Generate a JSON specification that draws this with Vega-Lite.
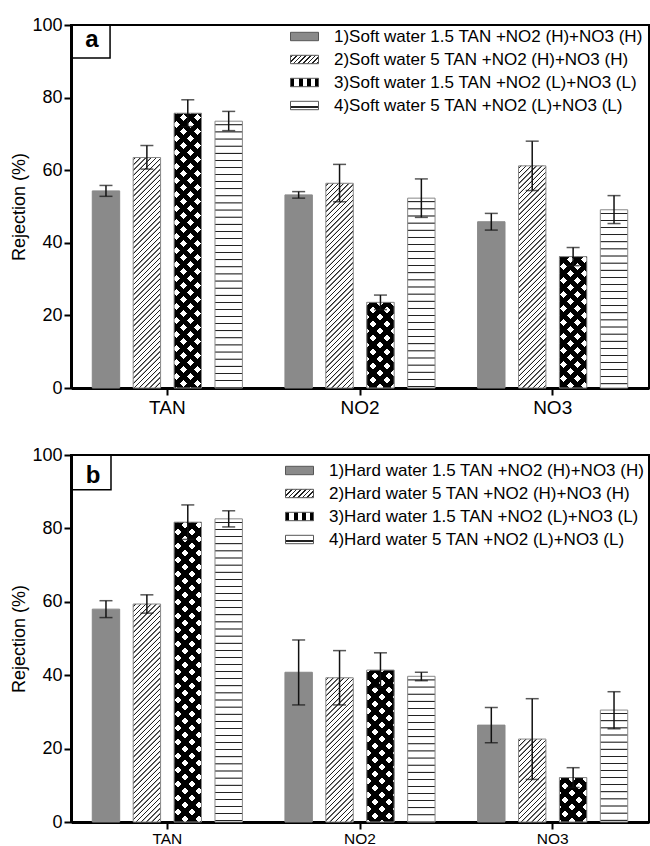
{
"$schema": "https://vega.github.io/schema/vega-lite/v6.json",
"background": "white",
"padding": {"left": 9, "top": 15, "right": 0, "bottom": 0},
"params": [
{"name": "stH", "value": [
{"offset":0.008,"color":"#fff"},{"offset":0.0095,"color":"#222"},{"offset":0.011,"color":"#222"},{"offset":0.0125,"color":"#fff"},
{"offset":0.028,"color":"#fff"},{"offset":0.0295,"color":"#222"},{"offset":0.031,"color":"#222"},{"offset":0.0325,"color":"#fff"},
{"offset":0.048,"color":"#fff"},{"offset":0.0495,"color":"#222"},{"offset":0.051,"color":"#222"},{"offset":0.0525,"color":"#fff"},
{"offset":0.068,"color":"#fff"},{"offset":0.0695,"color":"#222"},{"offset":0.071,"color":"#222"},{"offset":0.0725,"color":"#fff"},
{"offset":0.088,"color":"#fff"},{"offset":0.0895,"color":"#222"},{"offset":0.091,"color":"#222"},{"offset":0.0925,"color":"#fff"},
{"offset":0.108,"color":"#fff"},{"offset":0.1095,"color":"#222"},{"offset":0.111,"color":"#222"},{"offset":0.1125,"color":"#fff"},
{"offset":0.128,"color":"#fff"},{"offset":0.1295,"color":"#222"},{"offset":0.131,"color":"#222"},{"offset":0.1325,"color":"#fff"},
{"offset":0.148,"color":"#fff"},{"offset":0.1495,"color":"#222"},{"offset":0.151,"color":"#222"},{"offset":0.1525,"color":"#fff"},
{"offset":0.168,"color":"#fff"},{"offset":0.1695,"color":"#222"},{"offset":0.171,"color":"#222"},{"offset":0.1725,"color":"#fff"},
{"offset":0.188,"color":"#fff"},{"offset":0.1895,"color":"#222"},{"offset":0.191,"color":"#222"},{"offset":0.1925,"color":"#fff"},
{"offset":0.208,"color":"#fff"},{"offset":0.2095,"color":"#222"},{"offset":0.211,"color":"#222"},{"offset":0.2125,"color":"#fff"},
{"offset":0.228,"color":"#fff"},{"offset":0.2295,"color":"#222"},{"offset":0.231,"color":"#222"},{"offset":0.2325,"color":"#fff"},
{"offset":0.248,"color":"#fff"},{"offset":0.2495,"color":"#222"},{"offset":0.251,"color":"#222"},{"offset":0.2525,"color":"#fff"},
{"offset":0.268,"color":"#fff"},{"offset":0.2695,"color":"#222"},{"offset":0.271,"color":"#222"},{"offset":0.2725,"color":"#fff"},
{"offset":0.288,"color":"#fff"},{"offset":0.2895,"color":"#222"},{"offset":0.291,"color":"#222"},{"offset":0.2925,"color":"#fff"},
{"offset":0.308,"color":"#fff"},{"offset":0.3095,"color":"#222"},{"offset":0.311,"color":"#222"},{"offset":0.3125,"color":"#fff"},
{"offset":0.328,"color":"#fff"},{"offset":0.3295,"color":"#222"},{"offset":0.331,"color":"#222"},{"offset":0.3325,"color":"#fff"},
{"offset":0.348,"color":"#fff"},{"offset":0.3495,"color":"#222"},{"offset":0.351,"color":"#222"},{"offset":0.3525,"color":"#fff"},
{"offset":0.368,"color":"#fff"},{"offset":0.3695,"color":"#222"},{"offset":0.371,"color":"#222"},{"offset":0.3725,"color":"#fff"},
{"offset":0.388,"color":"#fff"},{"offset":0.3895,"color":"#222"},{"offset":0.391,"color":"#222"},{"offset":0.3925,"color":"#fff"},
{"offset":0.408,"color":"#fff"},{"offset":0.4095,"color":"#222"},{"offset":0.411,"color":"#222"},{"offset":0.4125,"color":"#fff"},
{"offset":0.428,"color":"#fff"},{"offset":0.4295,"color":"#222"},{"offset":0.431,"color":"#222"},{"offset":0.4325,"color":"#fff"},
{"offset":0.448,"color":"#fff"},{"offset":0.4495,"color":"#222"},{"offset":0.451,"color":"#222"},{"offset":0.4525,"color":"#fff"},
{"offset":0.468,"color":"#fff"},{"offset":0.4695,"color":"#222"},{"offset":0.471,"color":"#222"},{"offset":0.4725,"color":"#fff"},
{"offset":0.488,"color":"#fff"},{"offset":0.4895,"color":"#222"},{"offset":0.491,"color":"#222"},{"offset":0.4925,"color":"#fff"},
{"offset":0.508,"color":"#fff"},{"offset":0.5095,"color":"#222"},{"offset":0.511,"color":"#222"},{"offset":0.5125,"color":"#fff"},
{"offset":0.528,"color":"#fff"},{"offset":0.5295,"color":"#222"},{"offset":0.531,"color":"#222"},{"offset":0.5325,"color":"#fff"},
{"offset":0.548,"color":"#fff"},{"offset":0.5495,"color":"#222"},{"offset":0.551,"color":"#222"},{"offset":0.5525,"color":"#fff"},
{"offset":0.568,"color":"#fff"},{"offset":0.5695,"color":"#222"},{"offset":0.571,"color":"#222"},{"offset":0.5725,"color":"#fff"},
{"offset":0.588,"color":"#fff"},{"offset":0.5895,"color":"#222"},{"offset":0.591,"color":"#222"},{"offset":0.5925,"color":"#fff"},
{"offset":0.608,"color":"#fff"},{"offset":0.6095,"color":"#222"},{"offset":0.611,"color":"#222"},{"offset":0.6125,"color":"#fff"},
{"offset":0.628,"color":"#fff"},{"offset":0.6295,"color":"#222"},{"offset":0.631,"color":"#222"},{"offset":0.6325,"color":"#fff"},
{"offset":0.648,"color":"#fff"},{"offset":0.6495,"color":"#222"},{"offset":0.651,"color":"#222"},{"offset":0.6525,"color":"#fff"},
{"offset":0.668,"color":"#fff"},{"offset":0.6695,"color":"#222"},{"offset":0.671,"color":"#222"},{"offset":0.6725,"color":"#fff"},
{"offset":0.688,"color":"#fff"},{"offset":0.6895,"color":"#222"},{"offset":0.691,"color":"#222"},{"offset":0.6925,"color":"#fff"},
{"offset":0.708,"color":"#fff"},{"offset":0.7095,"color":"#222"},{"offset":0.711,"color":"#222"},{"offset":0.7125,"color":"#fff"},
{"offset":0.728,"color":"#fff"},{"offset":0.7295,"color":"#222"},{"offset":0.731,"color":"#222"},{"offset":0.7325,"color":"#fff"},
{"offset":0.748,"color":"#fff"},{"offset":0.7495,"color":"#222"},{"offset":0.751,"color":"#222"},{"offset":0.7525,"color":"#fff"},
{"offset":0.768,"color":"#fff"},{"offset":0.7695,"color":"#222"},{"offset":0.771,"color":"#222"},{"offset":0.7725,"color":"#fff"},
{"offset":0.788,"color":"#fff"},{"offset":0.7895,"color":"#222"},{"offset":0.791,"color":"#222"},{"offset":0.7925,"color":"#fff"},
{"offset":0.808,"color":"#fff"},{"offset":0.8095,"color":"#222"},{"offset":0.811,"color":"#222"},{"offset":0.8125,"color":"#fff"},
{"offset":0.828,"color":"#fff"},{"offset":0.8295,"color":"#222"},{"offset":0.831,"color":"#222"},{"offset":0.8325,"color":"#fff"},
{"offset":0.848,"color":"#fff"},{"offset":0.8495,"color":"#222"},{"offset":0.851,"color":"#222"},{"offset":0.8525,"color":"#fff"}
]},
{"name": "stD", "value": [
{"offset":0.006,"color":"#fff"},{"offset":0.008,"color":"#222"},{"offset":0.011,"color":"#222"},{"offset":0.013,"color":"#fff"},
{"offset":0.026,"color":"#fff"},{"offset":0.028,"color":"#222"},{"offset":0.031,"color":"#222"},{"offset":0.033,"color":"#fff"},
{"offset":0.046,"color":"#fff"},{"offset":0.048,"color":"#222"},{"offset":0.051,"color":"#222"},{"offset":0.053,"color":"#fff"},
{"offset":0.066,"color":"#fff"},{"offset":0.068,"color":"#222"},{"offset":0.071,"color":"#222"},{"offset":0.073,"color":"#fff"},
{"offset":0.086,"color":"#fff"},{"offset":0.088,"color":"#222"},{"offset":0.091,"color":"#222"},{"offset":0.093,"color":"#fff"},
{"offset":0.106,"color":"#fff"},{"offset":0.108,"color":"#222"},{"offset":0.111,"color":"#222"},{"offset":0.113,"color":"#fff"},
{"offset":0.126,"color":"#fff"},{"offset":0.128,"color":"#222"},{"offset":0.131,"color":"#222"},{"offset":0.133,"color":"#fff"},
{"offset":0.146,"color":"#fff"},{"offset":0.148,"color":"#222"},{"offset":0.151,"color":"#222"},{"offset":0.153,"color":"#fff"},
{"offset":0.166,"color":"#fff"},{"offset":0.168,"color":"#222"},{"offset":0.171,"color":"#222"},{"offset":0.173,"color":"#fff"},
{"offset":0.186,"color":"#fff"},{"offset":0.188,"color":"#222"},{"offset":0.191,"color":"#222"},{"offset":0.193,"color":"#fff"},
{"offset":0.206,"color":"#fff"},{"offset":0.208,"color":"#222"},{"offset":0.211,"color":"#222"},{"offset":0.213,"color":"#fff"},
{"offset":0.226,"color":"#fff"},{"offset":0.228,"color":"#222"},{"offset":0.231,"color":"#222"},{"offset":0.233,"color":"#fff"},
{"offset":0.246,"color":"#fff"},{"offset":0.248,"color":"#222"},{"offset":0.251,"color":"#222"},{"offset":0.253,"color":"#fff"},
{"offset":0.266,"color":"#fff"},{"offset":0.268,"color":"#222"},{"offset":0.271,"color":"#222"},{"offset":0.273,"color":"#fff"},
{"offset":0.286,"color":"#fff"},{"offset":0.288,"color":"#222"},{"offset":0.291,"color":"#222"},{"offset":0.293,"color":"#fff"},
{"offset":0.306,"color":"#fff"},{"offset":0.308,"color":"#222"},{"offset":0.311,"color":"#222"},{"offset":0.313,"color":"#fff"},
{"offset":0.326,"color":"#fff"},{"offset":0.328,"color":"#222"},{"offset":0.331,"color":"#222"},{"offset":0.333,"color":"#fff"},
{"offset":0.346,"color":"#fff"},{"offset":0.348,"color":"#222"},{"offset":0.351,"color":"#222"},{"offset":0.353,"color":"#fff"},
{"offset":0.366,"color":"#fff"},{"offset":0.368,"color":"#222"},{"offset":0.371,"color":"#222"},{"offset":0.373,"color":"#fff"},
{"offset":0.386,"color":"#fff"},{"offset":0.388,"color":"#222"},{"offset":0.391,"color":"#222"},{"offset":0.393,"color":"#fff"},
{"offset":0.406,"color":"#fff"},{"offset":0.408,"color":"#222"},{"offset":0.411,"color":"#222"},{"offset":0.413,"color":"#fff"},
{"offset":0.426,"color":"#fff"},{"offset":0.428,"color":"#222"},{"offset":0.431,"color":"#222"},{"offset":0.433,"color":"#fff"},
{"offset":0.446,"color":"#fff"},{"offset":0.448,"color":"#222"},{"offset":0.451,"color":"#222"},{"offset":0.453,"color":"#fff"},
{"offset":0.466,"color":"#fff"},{"offset":0.468,"color":"#222"},{"offset":0.471,"color":"#222"},{"offset":0.473,"color":"#fff"},
{"offset":0.486,"color":"#fff"},{"offset":0.488,"color":"#222"},{"offset":0.491,"color":"#222"},{"offset":0.493,"color":"#fff"},
{"offset":0.506,"color":"#fff"},{"offset":0.508,"color":"#222"},{"offset":0.511,"color":"#222"},{"offset":0.513,"color":"#fff"},
{"offset":0.526,"color":"#fff"},{"offset":0.528,"color":"#222"},{"offset":0.531,"color":"#222"},{"offset":0.533,"color":"#fff"},
{"offset":0.546,"color":"#fff"},{"offset":0.548,"color":"#222"},{"offset":0.551,"color":"#222"},{"offset":0.553,"color":"#fff"},
{"offset":0.566,"color":"#fff"},{"offset":0.568,"color":"#222"},{"offset":0.571,"color":"#222"},{"offset":0.573,"color":"#fff"},
{"offset":0.586,"color":"#fff"},{"offset":0.588,"color":"#222"},{"offset":0.591,"color":"#222"},{"offset":0.593,"color":"#fff"},
{"offset":0.606,"color":"#fff"},{"offset":0.608,"color":"#222"},{"offset":0.611,"color":"#222"},{"offset":0.613,"color":"#fff"},
{"offset":0.626,"color":"#fff"},{"offset":0.628,"color":"#222"},{"offset":0.631,"color":"#222"},{"offset":0.633,"color":"#fff"},
{"offset":0.646,"color":"#fff"},{"offset":0.648,"color":"#222"},{"offset":0.651,"color":"#222"},{"offset":0.653,"color":"#fff"},
{"offset":0.666,"color":"#fff"},{"offset":0.668,"color":"#222"},{"offset":0.671,"color":"#222"},{"offset":0.673,"color":"#fff"},
{"offset":0.686,"color":"#fff"},{"offset":0.688,"color":"#222"},{"offset":0.691,"color":"#222"},{"offset":0.693,"color":"#fff"},
{"offset":0.706,"color":"#fff"},{"offset":0.708,"color":"#222"},{"offset":0.711,"color":"#222"},{"offset":0.713,"color":"#fff"},
{"offset":0.726,"color":"#fff"},{"offset":0.728,"color":"#222"},{"offset":0.731,"color":"#222"},{"offset":0.733,"color":"#fff"},
{"offset":0.746,"color":"#fff"},{"offset":0.748,"color":"#222"},{"offset":0.751,"color":"#222"},{"offset":0.753,"color":"#fff"},
{"offset":0.766,"color":"#fff"},{"offset":0.768,"color":"#222"},{"offset":0.771,"color":"#222"},{"offset":0.773,"color":"#fff"},
{"offset":0.786,"color":"#fff"},{"offset":0.788,"color":"#222"},{"offset":0.791,"color":"#222"},{"offset":0.793,"color":"#fff"},
{"offset":0.806,"color":"#fff"},{"offset":0.808,"color":"#222"},{"offset":0.811,"color":"#222"},{"offset":0.813,"color":"#fff"},
{"offset":0.826,"color":"#fff"},{"offset":0.828,"color":"#222"},{"offset":0.831,"color":"#222"},{"offset":0.833,"color":"#fff"},
{"offset":0.846,"color":"#fff"},{"offset":0.848,"color":"#222"},{"offset":0.851,"color":"#222"},{"offset":0.853,"color":"#fff"},
{"offset":0.866,"color":"#fff"},{"offset":0.868,"color":"#222"},{"offset":0.871,"color":"#222"},{"offset":0.873,"color":"#fff"},
{"offset":0.886,"color":"#fff"},{"offset":0.888,"color":"#222"},{"offset":0.891,"color":"#222"},{"offset":0.893,"color":"#fff"},
{"offset":0.906,"color":"#fff"},{"offset":0.908,"color":"#222"},{"offset":0.911,"color":"#222"},{"offset":0.913,"color":"#fff"},
{"offset":0.926,"color":"#fff"},{"offset":0.928,"color":"#222"},{"offset":0.931,"color":"#222"},{"offset":0.933,"color":"#fff"},
{"offset":0.946,"color":"#fff"},{"offset":0.948,"color":"#222"},{"offset":0.951,"color":"#222"},{"offset":0.953,"color":"#fff"},
{"offset":0.966,"color":"#fff"},{"offset":0.968,"color":"#222"},{"offset":0.971,"color":"#222"},{"offset":0.973,"color":"#fff"},
{"offset":0.986,"color":"#fff"},{"offset":0.988,"color":"#222"},{"offset":0.991,"color":"#222"},{"offset":0.993,"color":"#fff"}
]},
{"name": "stX1", "value": [
{"offset":0.01,"color":"#fff"},{"offset":0.01,"color":"#000"},{"offset":0.03,"color":"#000"},{"offset":0.03,"color":"#fff"},
{"offset":0.05,"color":"#fff"},{"offset":0.05,"color":"#000"},{"offset":0.07,"color":"#000"},{"offset":0.07,"color":"#fff"},
{"offset":0.09,"color":"#fff"},{"offset":0.09,"color":"#000"},{"offset":0.11,"color":"#000"},{"offset":0.11,"color":"#fff"},
{"offset":0.13,"color":"#fff"},{"offset":0.13,"color":"#000"},{"offset":0.15,"color":"#000"},{"offset":0.15,"color":"#fff"},
{"offset":0.17,"color":"#fff"},{"offset":0.17,"color":"#000"},{"offset":0.19,"color":"#000"},{"offset":0.19,"color":"#fff"},
{"offset":0.21,"color":"#fff"},{"offset":0.21,"color":"#000"},{"offset":0.23,"color":"#000"},{"offset":0.23,"color":"#fff"},
{"offset":0.25,"color":"#fff"},{"offset":0.25,"color":"#000"},{"offset":0.27,"color":"#000"},{"offset":0.27,"color":"#fff"},
{"offset":0.29,"color":"#fff"},{"offset":0.29,"color":"#000"},{"offset":0.31,"color":"#000"},{"offset":0.31,"color":"#fff"},
{"offset":0.33,"color":"#fff"},{"offset":0.33,"color":"#000"},{"offset":0.35,"color":"#000"},{"offset":0.35,"color":"#fff"},
{"offset":0.37,"color":"#fff"},{"offset":0.37,"color":"#000"},{"offset":0.39,"color":"#000"},{"offset":0.39,"color":"#fff"},
{"offset":0.41,"color":"#fff"},{"offset":0.41,"color":"#000"},{"offset":0.43,"color":"#000"},{"offset":0.43,"color":"#fff"},
{"offset":0.45,"color":"#fff"},{"offset":0.45,"color":"#000"},{"offset":0.47,"color":"#000"},{"offset":0.47,"color":"#fff"},
{"offset":0.49,"color":"#fff"},{"offset":0.49,"color":"#000"},{"offset":0.51,"color":"#000"},{"offset":0.51,"color":"#fff"},
{"offset":0.53,"color":"#fff"},{"offset":0.53,"color":"#000"},{"offset":0.55,"color":"#000"},{"offset":0.55,"color":"#fff"},
{"offset":0.57,"color":"#fff"},{"offset":0.57,"color":"#000"},{"offset":0.59,"color":"#000"},{"offset":0.59,"color":"#fff"},
{"offset":0.61,"color":"#fff"},{"offset":0.61,"color":"#000"},{"offset":0.63,"color":"#000"},{"offset":0.63,"color":"#fff"},
{"offset":0.65,"color":"#fff"},{"offset":0.65,"color":"#000"},{"offset":0.67,"color":"#000"},{"offset":0.67,"color":"#fff"},
{"offset":0.69,"color":"#fff"},{"offset":0.69,"color":"#000"},{"offset":0.71,"color":"#000"},{"offset":0.71,"color":"#fff"},
{"offset":0.73,"color":"#fff"},{"offset":0.73,"color":"#000"},{"offset":0.75,"color":"#000"},{"offset":0.75,"color":"#fff"},
{"offset":0.77,"color":"#fff"},{"offset":0.77,"color":"#000"},{"offset":0.79,"color":"#000"},{"offset":0.79,"color":"#fff"},
{"offset":0.81,"color":"#fff"},{"offset":0.81,"color":"#000"},{"offset":0.83,"color":"#000"},{"offset":0.83,"color":"#fff"},
{"offset":0.85,"color":"#fff"},{"offset":0.85,"color":"#000"},{"offset":0.87,"color":"#000"},{"offset":0.87,"color":"#fff"},
{"offset":0.89,"color":"#fff"},{"offset":0.89,"color":"#000"},{"offset":0.91,"color":"#000"},{"offset":0.91,"color":"#fff"},
{"offset":0.93,"color":"#fff"},{"offset":0.93,"color":"#000"},{"offset":0.95,"color":"#000"},{"offset":0.95,"color":"#fff"}
]},
{"name": "stX2", "value": [
{"offset":0.01,"color":"transparent"},{"offset":0.01,"color":"#000"},{"offset":0.03,"color":"#000"},{"offset":0.03,"color":"transparent"},
{"offset":0.05,"color":"transparent"},{"offset":0.05,"color":"#000"},{"offset":0.07,"color":"#000"},{"offset":0.07,"color":"transparent"},
{"offset":0.09,"color":"transparent"},{"offset":0.09,"color":"#000"},{"offset":0.11,"color":"#000"},{"offset":0.11,"color":"transparent"},
{"offset":0.13,"color":"transparent"},{"offset":0.13,"color":"#000"},{"offset":0.15,"color":"#000"},{"offset":0.15,"color":"transparent"},
{"offset":0.17,"color":"transparent"},{"offset":0.17,"color":"#000"},{"offset":0.19,"color":"#000"},{"offset":0.19,"color":"transparent"},
{"offset":0.21,"color":"transparent"},{"offset":0.21,"color":"#000"},{"offset":0.23,"color":"#000"},{"offset":0.23,"color":"transparent"},
{"offset":0.25,"color":"transparent"},{"offset":0.25,"color":"#000"},{"offset":0.27,"color":"#000"},{"offset":0.27,"color":"transparent"},
{"offset":0.29,"color":"transparent"},{"offset":0.29,"color":"#000"},{"offset":0.31,"color":"#000"},{"offset":0.31,"color":"transparent"},
{"offset":0.33,"color":"transparent"},{"offset":0.33,"color":"#000"},{"offset":0.35,"color":"#000"},{"offset":0.35,"color":"transparent"},
{"offset":0.37,"color":"transparent"},{"offset":0.37,"color":"#000"},{"offset":0.39,"color":"#000"},{"offset":0.39,"color":"transparent"},
{"offset":0.41,"color":"transparent"},{"offset":0.41,"color":"#000"},{"offset":0.43,"color":"#000"},{"offset":0.43,"color":"transparent"},
{"offset":0.45,"color":"transparent"},{"offset":0.45,"color":"#000"},{"offset":0.47,"color":"#000"},{"offset":0.47,"color":"transparent"},
{"offset":0.49,"color":"transparent"},{"offset":0.49,"color":"#000"},{"offset":0.51,"color":"#000"},{"offset":0.51,"color":"transparent"},
{"offset":0.53,"color":"transparent"},{"offset":0.53,"color":"#000"},{"offset":0.55,"color":"#000"},{"offset":0.55,"color":"transparent"},
{"offset":0.57,"color":"transparent"},{"offset":0.57,"color":"#000"},{"offset":0.59,"color":"#000"},{"offset":0.59,"color":"transparent"},
{"offset":0.61,"color":"transparent"},{"offset":0.61,"color":"#000"},{"offset":0.63,"color":"#000"},{"offset":0.63,"color":"transparent"},
{"offset":0.65,"color":"transparent"},{"offset":0.65,"color":"#000"},{"offset":0.67,"color":"#000"},{"offset":0.67,"color":"transparent"},
{"offset":0.69,"color":"transparent"},{"offset":0.69,"color":"#000"},{"offset":0.71,"color":"#000"},{"offset":0.71,"color":"transparent"},
{"offset":0.73,"color":"transparent"},{"offset":0.73,"color":"#000"},{"offset":0.75,"color":"#000"},{"offset":0.75,"color":"transparent"},
{"offset":0.77,"color":"transparent"},{"offset":0.77,"color":"#000"},{"offset":0.79,"color":"#000"},{"offset":0.79,"color":"transparent"},
{"offset":0.81,"color":"transparent"},{"offset":0.81,"color":"#000"},{"offset":0.83,"color":"#000"},{"offset":0.83,"color":"transparent"},
{"offset":0.85,"color":"transparent"},{"offset":0.85,"color":"#000"},{"offset":0.87,"color":"#000"},{"offset":0.87,"color":"transparent"},
{"offset":0.89,"color":"transparent"},{"offset":0.89,"color":"#000"},{"offset":0.91,"color":"#000"},{"offset":0.91,"color":"transparent"},
{"offset":0.93,"color":"transparent"},{"offset":0.93,"color":"#000"},{"offset":0.95,"color":"#000"},{"offset":0.95,"color":"transparent"}
]},
{"name": "gL2", "value": {"gradient": "linear", "x1": 0, "y1": 0, "x2": 1.1927, "y2": 0.3578, "stops": [
{"offset":0.04,"color":"#fff"},{"offset":0.04,"color":"#222"},{"offset":0.085,"color":"#222"},{"offset":0.085,"color":"#fff"},
{"offset":0.165,"color":"#fff"},{"offset":0.165,"color":"#222"},{"offset":0.21,"color":"#222"},{"offset":0.21,"color":"#fff"},
{"offset":0.29,"color":"#fff"},{"offset":0.29,"color":"#222"},{"offset":0.335,"color":"#222"},{"offset":0.335,"color":"#fff"},
{"offset":0.415,"color":"#fff"},{"offset":0.415,"color":"#222"},{"offset":0.46,"color":"#222"},{"offset":0.46,"color":"#fff"},
{"offset":0.54,"color":"#fff"},{"offset":0.54,"color":"#222"},{"offset":0.585,"color":"#222"},{"offset":0.585,"color":"#fff"},
{"offset":0.665,"color":"#fff"},{"offset":0.665,"color":"#222"},{"offset":0.71,"color":"#222"},{"offset":0.71,"color":"#fff"},
{"offset":0.79,"color":"#fff"},{"offset":0.79,"color":"#222"},{"offset":0.835,"color":"#222"},{"offset":0.835,"color":"#fff"},
{"offset":0.915,"color":"#fff"},{"offset":0.915,"color":"#222"},{"offset":0.96,"color":"#222"},{"offset":0.96,"color":"#fff"}
]}},
{"name": "gL3", "value": {"gradient": "linear", "x1": 0, "y1": 0, "x2": 1, "y2": 0, "stops": [
{"offset":0,"color":"#000"},{"offset":0.14,"color":"#000"},{"offset":0.14,"color":"#fff"},{"offset":0.3,"color":"#fff"},
{"offset":0.3,"color":"#000"},{"offset":0.44,"color":"#000"},{"offset":0.44,"color":"#fff"},{"offset":0.58,"color":"#fff"},
{"offset":0.58,"color":"#000"},{"offset":0.72,"color":"#000"},{"offset":0.72,"color":"#fff"},{"offset":0.86,"color":"#fff"},
{"offset":0.86,"color":"#000"},{"offset":1,"color":"#000"}
]}},
{"name": "gL4", "value": {"gradient": "linear", "x1": 0, "y1": 0, "x2": 0, "y2": 1, "stops": [
{"offset":0.6,"color":"#fff"},{"offset":0.6,"color":"#222"},{"offset":0.76,"color":"#222"},{"offset":0.76,"color":"#fff"}
]}}
],
"datasets": {
"soft": [
{"g":"TAN","k":1,"s":"1)Soft water 1.5 TAN +NO2 (H)+NO3 (H)","v":54.3,"lo":52.8,"hi":55.8},
{"g":"TAN","k":2,"s":"2)Soft water 5 TAN +NO2 (H)+NO3 (H)","v":63.5,"lo":60.3,"hi":66.8},
{"g":"TAN","k":3,"s":"3)Soft water 1.5 TAN +NO2 (L)+NO3 (L)","v":75.7,"lo":72.0,"hi":79.4},
{"g":"TAN","k":4,"s":"4)Soft water 5 TAN +NO2 (L)+NO3 (L)","v":73.5,"lo":70.9,"hi":76.2},
{"g":"NO2","k":1,"s":"1)Soft water 1.5 TAN +NO2 (H)+NO3 (H)","v":53.2,"lo":52.3,"hi":54.1},
{"g":"NO2","k":2,"s":"2)Soft water 5 TAN +NO2 (H)+NO3 (H)","v":56.4,"lo":51.3,"hi":61.6},
{"g":"NO2","k":3,"s":"3)Soft water 1.5 TAN +NO2 (L)+NO3 (L)","v":23.6,"lo":21.6,"hi":25.6},
{"g":"NO2","k":4,"s":"4)Soft water 5 TAN +NO2 (L)+NO3 (L)","v":52.3,"lo":47.0,"hi":57.6},
{"g":"NO3","k":1,"s":"1)Soft water 1.5 TAN +NO2 (H)+NO3 (H)","v":45.8,"lo":43.5,"hi":48.1},
{"g":"NO3","k":2,"s":"2)Soft water 5 TAN +NO2 (H)+NO3 (H)","v":61.2,"lo":54.4,"hi":68.0},
{"g":"NO3","k":3,"s":"3)Soft water 1.5 TAN +NO2 (L)+NO3 (L)","v":36.2,"lo":33.7,"hi":38.7},
{"g":"NO3","k":4,"s":"4)Soft water 5 TAN +NO2 (L)+NO3 (L)","v":49.1,"lo":45.3,"hi":53.0}
],
"hard": [
{"g":"TAN","k":1,"s":"1)Hard water 1.5 TAN +NO2 (H)+NO3 (H)","v":58.0,"lo":55.7,"hi":60.3},
{"g":"TAN","k":2,"s":"2)Hard water 5 TAN +NO2 (H)+NO3 (H)","v":59.4,"lo":56.9,"hi":61.9},
{"g":"TAN","k":3,"s":"3)Hard water 1.5 TAN +NO2 (L)+NO3 (L)","v":81.7,"lo":77.0,"hi":86.4},
{"g":"TAN","k":4,"s":"4)Hard water 5 TAN +NO2 (L)+NO3 (L)","v":82.6,"lo":80.4,"hi":84.8},
{"g":"NO2","k":1,"s":"1)Hard water 1.5 TAN +NO2 (H)+NO3 (H)","v":40.8,"lo":31.9,"hi":49.6},
{"g":"NO2","k":2,"s":"2)Hard water 5 TAN +NO2 (H)+NO3 (H)","v":39.3,"lo":31.9,"hi":46.7},
{"g":"NO2","k":3,"s":"3)Hard water 1.5 TAN +NO2 (L)+NO3 (L)","v":41.4,"lo":36.7,"hi":46.1},
{"g":"NO2","k":4,"s":"4)Hard water 5 TAN +NO2 (L)+NO3 (L)","v":39.7,"lo":38.5,"hi":40.8},
{"g":"NO3","k":1,"s":"1)Hard water 1.5 TAN +NO2 (H)+NO3 (H)","v":26.4,"lo":21.6,"hi":31.2},
{"g":"NO3","k":2,"s":"2)Hard water 5 TAN +NO2 (H)+NO3 (H)","v":22.6,"lo":11.6,"hi":33.6},
{"g":"NO3","k":3,"s":"3)Hard water 1.5 TAN +NO2 (L)+NO3 (L)","v":12.1,"lo":9.4,"hi":14.8},
{"g":"NO3","k":4,"s":"4)Hard water 5 TAN +NO2 (L)+NO3 (L)","v":30.5,"lo":25.4,"hi":35.5}
]
},
"spacing": 27,
"resolve": {"scale": {"x": "independent", "y": "independent", "fill": "independent", "xOffset": "independent"}},
"vconcat": [
{
"width": 578, "height": 363,
"layer": [
{
"data": {"name": "soft"},
"encoding": {
"x": {"field": "g", "type": "nominal", "sort": ["TAN","NO2","NO3"], "title": null, "scale": {"paddingInner": 0, "paddingOuter": 0}, "axis": {"labelAngle": 0, "labelFontSize": 19, "labelPadding": 3, "bandPosition": 0.5}},
"xOffset": {"field": "k", "type": "nominal", "scale": {"paddingInner": 0.33, "paddingOuter": 0.52}},
"y": {"field": "v", "type": "quantitative", "stack": null, "title": "Rejection (%)", "scale": {"domain": [0, 100], "nice": false}, "axis": {"values": [0,20,40,60,80,100], "labelFontSize": 18, "titleFontSize": 18, "labelPadding": 2, "titlePadding": 3}}
},
"layer": [
{"mark": {"type": "bar"}, "encoding": {"fill": {"field": "s", "type": "nominal", "scale": {"range": ["#8a8a8a", {"expr": "gL2"}, {"expr": "gL3"}, {"expr": "gL4"}]}, "legend": {"title": null, "orient": "none", "legendX": 219, "legendY": -3, "symbolType": "M-1,-0.3H1V0.3H-1Z", "symbolSize": 784, "symbolStrokeColor": "#555", "symbolStrokeWidth": 1, "labelFontSize": 17, "labelColor": "black", "labelLimit": 500, "labelOffset": 15, "rowPadding": 0, "padding": 0}}}},
{"mark": {"type": "bar"}, "encoding": {"fill": {"value": {"expr": "datum.k == 2 ? {gradient: 'linear', x1: 0, y1: 0, x2: 260*27.41/(751.3+pow(datum.v*3.63,2)), y2: 260*datum.v*3.63/(751.3+pow(datum.v*3.63,2)), stops: stD} : datum.k == 3 ? {gradient: 'linear', x1: 0, y1: 0, x2: 350*27.41/(751.3+pow(datum.v*3.63,2)), y2: 350*datum.v*3.63/(751.3+pow(datum.v*3.63,2)), stops: stX1} : datum.k == 4 ? {gradient: 'linear', x1: 0, y1: 0, x2: 0, y2: 355/(datum.v*3.63), stops: stH} : 'transparent'"}}}},
{"mark": {"type": "bar", "stroke": "#888", "strokeWidth": 1}, "encoding": {"fill": {"value": {"expr": "datum.k == 3 ? {gradient: 'linear', x1: 0, y1: 1, x2: 350*27.41/(751.3+pow(datum.v*3.63,2)), y2: 1-350*datum.v*3.63/(751.3+pow(datum.v*3.63,2)), stops: stX2} : 'transparent'"}}}},
{"mark": {"type": "rule", "color": "#111", "strokeWidth": 1.5}, "encoding": {"y": {"field": "lo", "type": "quantitative", "title": "Rejection (%)"}, "y2": {"field": "hi"}}},
{"mark": {"type": "tick", "color": "#111", "thickness": 1.5, "size": 13}, "encoding": {"y": {"field": "lo", "type": "quantitative", "title": "Rejection (%)"}}},
{"mark": {"type": "tick", "color": "#111", "thickness": 1.5, "size": 13}, "encoding": {"y": {"field": "hi", "type": "quantitative", "title": "Rejection (%)"}}}
]
},
{"data": {"values": [{}]}, "mark": {"type": "rect", "fill": "transparent", "stroke": "black", "strokeWidth": 1.5}, "encoding": {"x": {"datum": "TAN", "bandPosition": 0, "title": null}, "x2": {"datum": "TAN", "bandPosition": 0.2027}, "y": {"datum": 100, "type": "quantitative", "title": "Rejection (%)"}, "y2": {"datum": 90.9}}},
{"data": {"values": [{}]}, "mark": {"type": "text", "text": "a", "fontSize": 24, "fontWeight": "bold", "font": "Liberation Sans", "baseline": "alphabetic", "align": "center", "color": "black"}, "encoding": {"x": {"datum": "TAN", "bandPosition": 0.108, "title": null}, "y": {"datum": 93.9, "type": "quantitative", "title": "Rejection (%)"}}}
]
},
{
"width": 578, "height": 367,
"layer": [
{
"data": {"name": "hard"},
"encoding": {
"x": {"field": "g", "type": "nominal", "sort": ["TAN","NO2","NO3"], "title": null, "scale": {"paddingInner": 0, "paddingOuter": 0}, "axis": {"labelAngle": 0, "labelFontSize": 15.5, "labelPadding": 2, "bandPosition": 0.5}},
"xOffset": {"field": "k", "type": "nominal", "scale": {"paddingInner": 0.33, "paddingOuter": 0.52}},
"y": {"field": "v", "type": "quantitative", "stack": null, "title": "Rejection (%)", "scale": {"domain": [0, 100], "nice": false}, "axis": {"values": [0,20,40,60,80,100], "labelFontSize": 18, "titleFontSize": 18, "labelPadding": 2, "titlePadding": 3}}
},
"layer": [
{"mark": {"type": "bar"}, "encoding": {"fill": {"field": "s", "type": "nominal", "scale": {"range": ["#8a8a8a", {"expr": "gL2"}, {"expr": "gL3"}, {"expr": "gL4"}]}, "legend": {"title": null, "orient": "none", "legendX": 214, "legendY": 1, "symbolType": "M-1,-0.3H1V0.3H-1Z", "symbolSize": 784, "symbolStrokeColor": "#555", "symbolStrokeWidth": 1, "labelFontSize": 17, "labelColor": "black", "labelLimit": 500, "labelOffset": 15, "rowPadding": 0, "padding": 0}}}},
{"mark": {"type": "bar"}, "encoding": {"fill": {"value": {"expr": "datum.k == 2 ? {gradient: 'linear', x1: 0, y1: 0, x2: 260*27.41/(751.3+pow(datum.v*3.67,2)), y2: 260*datum.v*3.67/(751.3+pow(datum.v*3.67,2)), stops: stD} : datum.k == 3 ? {gradient: 'linear', x1: 0, y1: 0, x2: 350*27.41/(751.3+pow(datum.v*3.67,2)), y2: 350*datum.v*3.67/(751.3+pow(datum.v*3.67,2)), stops: stX1} : datum.k == 4 ? {gradient: 'linear', x1: 0, y1: 0, x2: 0, y2: 355/(datum.v*3.67), stops: stH} : 'transparent'"}}}},
{"mark": {"type": "bar", "stroke": "#888", "strokeWidth": 1}, "encoding": {"fill": {"value": {"expr": "datum.k == 3 ? {gradient: 'linear', x1: 0, y1: 1, x2: 350*27.41/(751.3+pow(datum.v*3.67,2)), y2: 1-350*datum.v*3.67/(751.3+pow(datum.v*3.67,2)), stops: stX2} : 'transparent'"}}}},
{"mark": {"type": "rule", "color": "#111", "strokeWidth": 1.5}, "encoding": {"y": {"field": "lo", "type": "quantitative", "title": "Rejection (%)"}, "y2": {"field": "hi"}}},
{"mark": {"type": "tick", "color": "#111", "thickness": 1.5, "size": 13}, "encoding": {"y": {"field": "lo", "type": "quantitative", "title": "Rejection (%)"}}},
{"mark": {"type": "tick", "color": "#111", "thickness": 1.5, "size": 13}, "encoding": {"y": {"field": "hi", "type": "quantitative", "title": "Rejection (%)"}}}
]
},
{"data": {"values": [{}]}, "mark": {"type": "rect", "fill": "transparent", "stroke": "black", "strokeWidth": 1.5}, "encoding": {"x": {"datum": "TAN", "bandPosition": 0, "title": null}, "x2": {"datum": "TAN", "bandPosition": 0.2076}, "y": {"datum": 100, "type": "quantitative", "title": "Rejection (%)"}, "y2": {"datum": 90.5}}},
{"data": {"values": [{}]}, "mark": {"type": "text", "text": "b", "fontSize": 24, "fontWeight": "bold", "font": "Liberation Sans", "baseline": "alphabetic", "align": "center", "color": "black"}, "encoding": {"x": {"datum": "TAN", "bandPosition": 0.114, "title": null}, "y": {"datum": 92.3, "type": "quantitative", "title": "Rejection (%)"}}}
]
}
],
"config": {
"font": "Liberation Sans",
"view": {"stroke": "black", "strokeWidth": 2},
"axis": {"domainColor": "black", "domainWidth": 3, "tickColor": "black", "tickWidth": 2, "tickSize": 7, "labelColor": "black", "titleColor": "black", "titleFontWeight": "normal", "grid": false, "labelFont": "Liberation Sans", "titleFont": "Liberation Sans"},
"legend": {"labelFont": "Liberation Sans"}
}
}
